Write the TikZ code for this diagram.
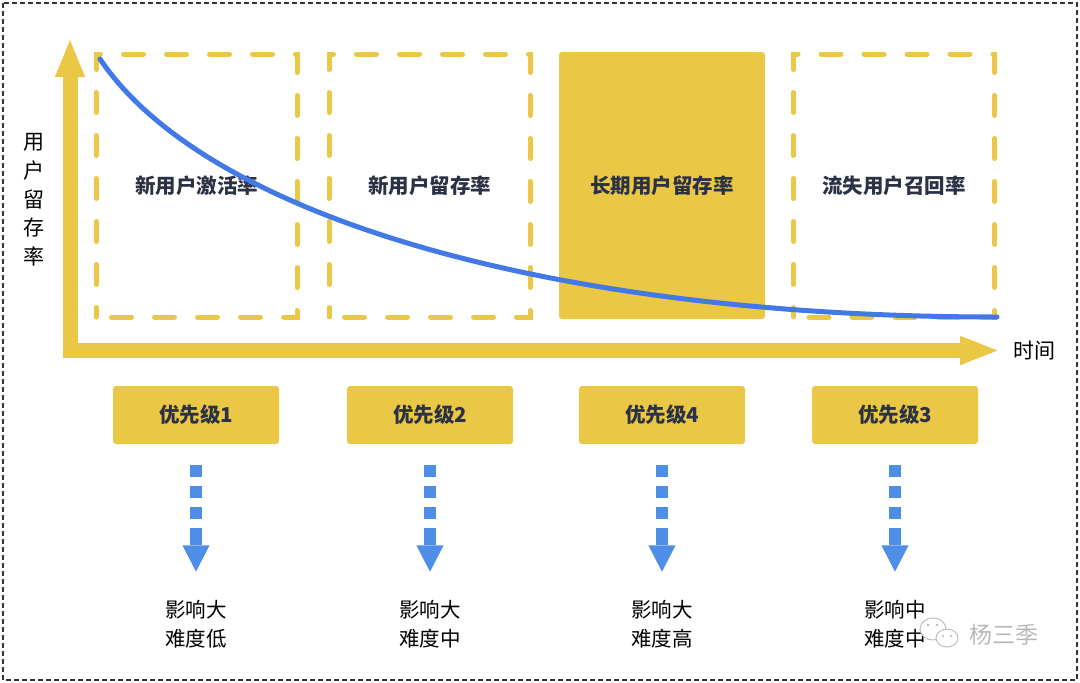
\documentclass[tikz,border=0pt]{standalone}
\usepackage{fontspec}
\setmainfont{Noto Sans CJK SC}
\usetikzlibrary{arrows.meta}
\definecolor{ylw}{RGB}{235,199,70}
\definecolor{blu}{RGB}{66,121,230}
\definecolor{arrblu}{RGB}{78,142,230}
\definecolor{ink}{RGB}{43,50,69}
\definecolor{wm}{RGB}{185,185,185}
\begin{document}
\begin{tikzpicture}[x=1pt,y=-1pt,
  lbl/.style={font=\fontsize{20.5pt}{24pt}\selectfont\bfseries, text=ink},
  dashbox/.style={lbl, draw=ylw, line width=5pt, line cap=round,
    dash pattern=on 20pt off 23pt, dash phase=27.5pt,
    minimum width=201pt, minimum height=263pt, inner sep=0pt},
  fillbox/.style={lbl, fill=ylw, rounded corners=3pt,
    minimum width=206pt, minimum height=267pt, inner sep=0pt},
  prio/.style={lbl, fill=ylw, rounded corners=3pt,
    minimum width=166pt, minimum height=58pt, inner sep=0pt},
  note/.style={font=\fontsize{20.5pt}{29pt}\selectfont, text=black,
    align=center, inner sep=0pt},
  dotarrow/.style={draw=arrblu, line width=12pt,
    dash pattern=on 12pt off 9pt on 12pt off 9pt on 12pt off 9pt on 17pt off 60pt,
    -{Triangle[length=27pt 0 0, width=25pt 0]},
    shorten <=21pt, shorten >=28pt},
  axis/.style={draw=ylw, line width=15pt, line join=miter,
    {Triangle[length=39pt 0 0, width=27pt 0]}-{Triangle[length=40pt 0 0, width=26pt 0]}},
  bubble/.style={draw=wm, fill=white, line width=0.9pt}
]
\useasboundingbox (0,0) rectangle (1080,683);
% outer dashed frame
\draw[draw=black!80, line width=1.3pt, dash pattern=on 5pt off 3pt] (3,3) rectangle (1077,680);

% axes
\draw[axis] (70,38) -- (70,350.5) -- (1000,350.5);
\node[font=\fontsize{21pt}{28.75pt}\selectfont, align=center, inner sep=0pt] (ylab) at (34,200) {用\\户\\留\\存\\率};
\node[font=\fontsize{21pt}{24pt}\selectfont, inner sep=0pt] (xlab) at (1034,351) {时间};

% stage boxes
\node[dashbox] (b1) at (196.5,185.5) {新用户激活率};
\node[dashbox] (b2) at (429.5,185.5) {新用户留存率};
\node[fillbox] (b3) at (662,185.5) {长期用户留存率};
\node[dashbox] (b4) at (894,185.5) {流失用户召回率};

% retention curve
\draw[blu, line width=5pt, line cap=round]
  (100,59) .. controls (205,215) and (547,317) .. (997,317);

% priority boxes
\node[prio] (p1) at (196,415) {优先级1};
\node[prio] (p2) at (430,415) {优先级2};
\node[prio] (p3) at (662,415) {优先级4};
\node[prio] (p4) at (895,415) {优先级3};

% notes
\node[note] (t1) at (196,624.5) {影响大\\难度低};
\node[note] (t2) at (430,624.5) {影响大\\难度中};
\node[note] (t3) at (662,624.5) {影响大\\难度高};
\node[note] (t4) at (895,624.5) {影响中\\难度中};

% dotted arrows
\draw[dotarrow] (p1.south) -- (t1.north);
\draw[dotarrow] (p2.south) -- (t2.north);
\draw[dotarrow] (p3.south) -- (t3.north);
\draw[dotarrow] (p4.south) -- (t4.north);

% watermark
\draw[bubble] (933,629) ellipse[x radius=13, y radius=11];
\fill[wm] (928,625) circle[radius=1.4] (937,625) circle[radius=1.4];
\draw[bubble] (947,638) ellipse[x radius=11, y radius=9];
\fill[wm] (943,636) circle[radius=1.2] (951,636) circle[radius=1.2];
\node[font=\fontsize{23pt}{28pt}\selectfont, text=wm, inner sep=0pt] (wmk) at (1004,635) {杨三季};
\end{tikzpicture}
\end{document}
